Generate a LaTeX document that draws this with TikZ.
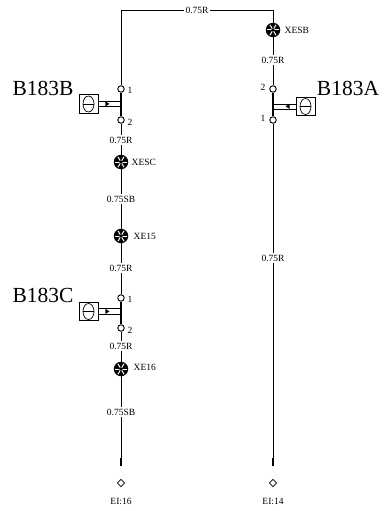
\documentclass[tikz,border=0pt]{standalone}
\usepackage{fontspec}
\setmainfont{Liberation Serif}
\usetikzlibrary{shapes.geometric}
\tikzset{
	pin/.style={draw,circle,fill=white,line width=.9pt,minimum size=6.5pt,inner sep=0pt},
	splice/.style={circle,fill=black,minimum size=14.5pt,inner sep=0pt},
	wirelabel/.style={font=\fontsize{9.5}{10}\selectfont,inner sep=1.5pt},
	sensor/.style={font=\fontsize{21.5}{24}\selectfont,inner sep=0pt},
	housing/.style={draw,line width=.9pt,minimum width=19pt,minimum height=18.5pt,inner sep=0pt},
	term/.style={draw,diamond,line width=.8pt,minimum size=7.5pt,inner sep=0pt},
	wire/.style={line width=.85pt}
}
\begin{document}
\begin{tikzpicture}[x=1pt,y=-1pt]
	\useasboundingbox (0,0) rectangle (383,511);
	% left branch
	\node[wirelabel] (toplab) at (197,10) {0.75R};
	\coordinate (cornerl) at (121,10);
	\coordinate (cornerr) at (273,10);
	\node[pin] (b1) at (121,89) {};
	\node[pin] (b2) at (121,120) {};
	\node[wirelabel] (lab1) at (121,140) {0.75R};
	\node[splice] (xesc) at (121,162) {};
	\node[wirelabel] (lab2) at (121,199) {0.75SB};
	\node[splice] (xe15) at (121,236) {};
	\node[wirelabel] (lab3) at (121,268) {0.75R};
	\node[pin] (c1) at (121,298) {};
	\node[pin] (c2) at (121,328) {};
	\node[wirelabel] (lab4) at (121,346) {0.75R};
	\node[splice] (xe16) at (121,369) {};
	\node[wirelabel] (lab5) at (121,412) {0.75SB};
	\coordinate (endl) at (121,466);
	\coordinate (stubl) at (121,458);
	\node[term] (ei16) at (121,483) {};
	% right branch
	\node[splice] (xesb) at (273,30) {};
	\node[wirelabel] (lab6) at (273,60) {0.75R};
	\node[pin] (a2) at (273,89) {};
	\node[pin] (a1) at (273,120) {};
	\node[wirelabel] (lab7) at (273,258) {0.75R};
	\coordinate (endr) at (273,466);
	\coordinate (stubr) at (273,458);
	\node[term] (ei14) at (273,483) {};
	% wires
	\draw[wire] (toplab) -- (cornerl) -- (b1);
	\draw[wire] (b2) -- (lab1);
	\draw[wire] (lab1) -- (xesc) -- (lab2);
	\draw[wire] (lab2) -- (xe15) -- (lab3);
	\draw[wire] (lab3) -- (c1);
	\draw[wire] (c2) -- (lab4);
	\draw[wire] (lab4) -- (xe16) -- (lab5);
	\draw[wire] (lab5) -- (endl);
	\draw[line width=2.2pt] (stubl) -- (endl);
	\draw[wire] (toplab) -- (cornerr) -- (xesb);
	\draw[wire] (xesb) -- (lab6);
	\draw[wire] (lab6) -- (a2);
	\draw[wire] (a1) -- (lab7);
	\draw[wire] (lab7) -- (endr);
	\draw[line width=2.2pt] (stubr) -- (endr);
	\draw[line width=1.8pt] (b1) -- (b2);
	\draw[line width=1.8pt] (c1) -- (c2);
	\draw[line width=1.8pt] (a2) -- (a1);
	% white spokes of the splices
	\foreach \sp in {xesc,xe15,xe16,xesb}{
		\foreach \ang in {0,60,120}{
			\draw[white,line width=1pt] (\sp.center) ++(\ang:6) -- ++(\ang+180:12);
		}
		\fill[black] (\sp.center) circle (1.8);
	}
	% sensors
	\foreach \nm/\yy in {hb/104,hc/311.5}{
		\node[housing] (\nm) at (88.5,\yy) {};
		\draw[line width=.7pt] (\nm.center) ellipse (5.5 and 8);
		\draw[line width=.7pt] (\nm.center) ++(-5.5,0) -- ++(11,0);
		\draw[line width=.9pt] (\nm.east) ++(0,-3) -- ++(23,0);
		\draw[line width=.9pt] (\nm.east) ++(0,2.5) -- ++(23,0);
		\fill (\nm.east) ++(7,-2.6) -- ++(0,5) -- ++(4,-2.5) -- cycle;
	}
	\node[housing] (ha) at (305.5,106.5) {};
	\draw[line width=.7pt] (ha.center) ellipse (5.5 and 8);
	\draw[line width=.7pt] (ha.center) ++(-5.5,0) -- ++(11,0);
	\draw[line width=.9pt] (ha.west) ++(0,-2.5) -- ++(-23,0);
	\draw[line width=.9pt] (ha.west) ++(0,3) -- ++(-23,0);
	\fill (ha.west) ++(-6,-2.6) -- ++(0,5) -- ++(-4,-2.5) -- cycle;
	% texts
	\node[sensor] (nameb) at (43,88) {B183B};
	\node[sensor] (namec) at (43,295) {B183C};
	\node[sensor] (namea) at (348,88) {B183A};
	\node[wirelabel,right] (numb1) at (126,90.5) {1};
	\node[wirelabel,right] (numb2) at (126,122) {2};
	\node[wirelabel,right] (numc1) at (126,299.5) {1};
	\node[wirelabel,right] (numc2) at (126,330) {2};
	\node[wirelabel,left] (numa2) at (267,87.5) {2};
	\node[wirelabel,left] (numa1) at (267,118.5) {1};
	\node[wirelabel,right] (nesc) at (130,162) {XESC};
	\node[wirelabel,right] (ne15) at (132,236) {XE15};
	\node[wirelabel,right] (ne16) at (132,367.5) {XE16};
	\node[wirelabel,right] (nesb) at (283,30) {XESB};
	\node[wirelabel] (t16) at (121,501.5) {EI:16};
	\node[wirelabel] (t14) at (273,501.5) {EI:14};
\end{tikzpicture}
\end{document}
